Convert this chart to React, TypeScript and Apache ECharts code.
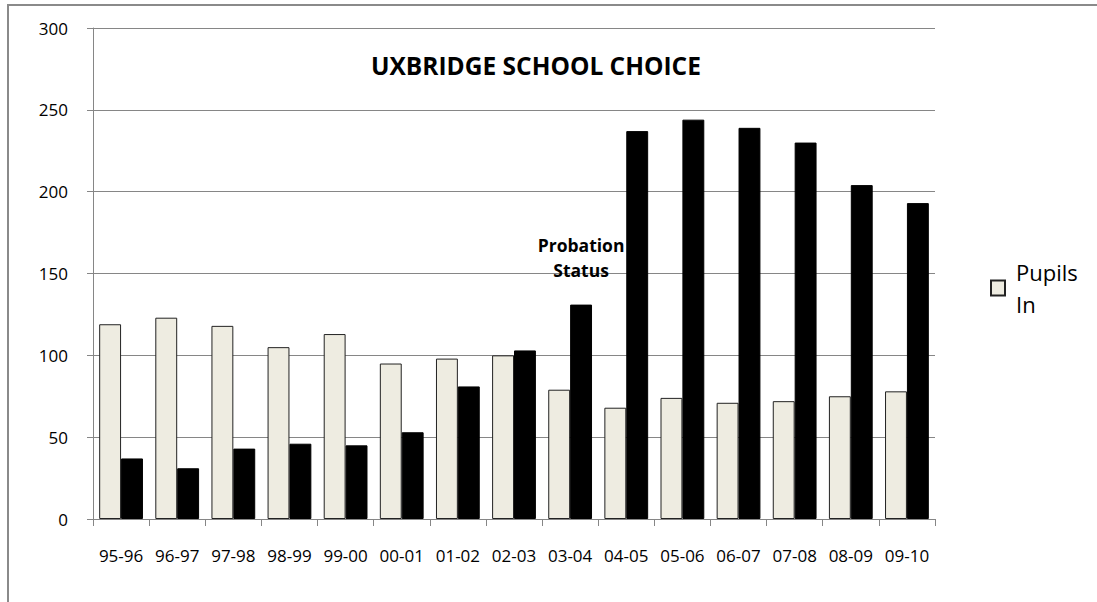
import React, { useEffect, useRef } from "react";
import * as echarts from "echarts";

const categories = ["95-96", "96-97", "97-98", "98-99", "99-00", "00-01", "01-02", "02-03", "03-04", "04-05", "05-06", "06-07", "07-08", "08-09", "09-10"];
const pupilsIn = [119, 123, 118, 105, 113, 95, 98, 100, 79, 68, 74, 71, 72, 75, 78];
const pupilsOut = [37, 31, 43, 46, 45, 53, 81, 103, 131, 237, 244, 239, 230, 204, 193];
const yTicks = { min: 0, max: 300, interval: 50 };
const titleText = "UXBRIDGE SCHOOL CHOICE";
const annotationCategory = "03-04";
const annotationText = "Probation\nStatus";

export default function App() {
  const ref = useRef<HTMLDivElement>(null);
  useEffect(() => {
    if (!ref.current) return;
    const chart = echarts.init(ref.current, null, { renderer: "svg" });
    const annIdx = categories.indexOf(annotationCategory);
    const outData = pupilsOut.map((v, i) =>
      i === annIdx
        ? {
            value: v,
            label: {
              show: true,
              position: "top",
              distance: 22,
              formatter: annotationText,
              fontFamily: "Open Sans",
              fontWeight: "bold",
              fontSize: 17.5,
              lineHeight: 25,
              color: "#000",
              align: "center",
            },
          }
        : v
    );
    chart.setOption({
      animation: false,
      textStyle: { fontFamily: "Open Sans" },
      title: {
        text: titleText,
        left: 371,
        top: 53,
        padding: 0,
        textStyle: { fontFamily: "Open Sans", fontWeight: "bold", fontSize: 24.5, color: "#000" },
      },
      graphic: [
        {
          type: "rect",
          z: -10,
          shape: { x: 8, y: 5, width: 1400, height: 900 },
          style: { fill: "none", stroke: "#8a8a8a", lineWidth: 2 },
        },
      ],
      legend: {
        data: ["Pupils In"],
        left: 990,
        top: 240,
        padding: 0,
        itemWidth: 14,
        itemHeight: 15,
        icon: "rect",
        formatter: () => "Pupils\nIn",
        textStyle: {
          fontFamily: "Open Sans",
          fontSize: 22,
          lineHeight: 32,
          color: "#000",
          padding: [32, 0, 0, 6],
        },
      },
      grid: { left: 93, right: 162, top: 28, bottom: 83, containLabel: false },
      xAxis: {
        type: "category",
        data: categories,
        axisLine: { show: true, lineStyle: { color: "#868686", width: 1 } },
        axisTick: { show: true, length: 7, alignWithLabel: false, lineStyle: { color: "#868686" } },
        axisLabel: { interval: 0, margin: 28, fontSize: 17, color: "#000", fontFamily: "Open Sans" },
        splitLine: { show: false },
      },
      yAxis: {
        type: "value",
        min: yTicks.min,
        max: yTicks.max,
        interval: yTicks.interval,
        axisLine: { show: true, lineStyle: { color: "#868686", width: 1 } },
        axisTick: { show: true, length: 6, lineStyle: { color: "#868686" } },
        axisLabel: { margin: 25, fontSize: 17, color: "#000", fontFamily: "Open Sans" },
        splitLine: { show: true, lineStyle: { color: "#868686", width: 1 } },
      },
      series: [
        {
          name: "Pupils In",
          type: "bar",
          data: pupilsIn,
          barGap: "0%",
          barCategoryGap: "22%",
          itemStyle: { color: "#EEECE1", borderColor: "#222", borderWidth: 1 },
        },
        {
          name: "Pupils Out",
          type: "bar",
          data: outData,
          itemStyle: { color: "#000", borderColor: "#000", borderWidth: 1 },
        },
      ],
    });
    return () => chart.dispose();
  }, []);
  return (
    <div
      ref={ref}
      style={{ position: "absolute", left: 0, top: 0, width: 1097, height: 602, background: "#fff" }}
    />
  );
}
